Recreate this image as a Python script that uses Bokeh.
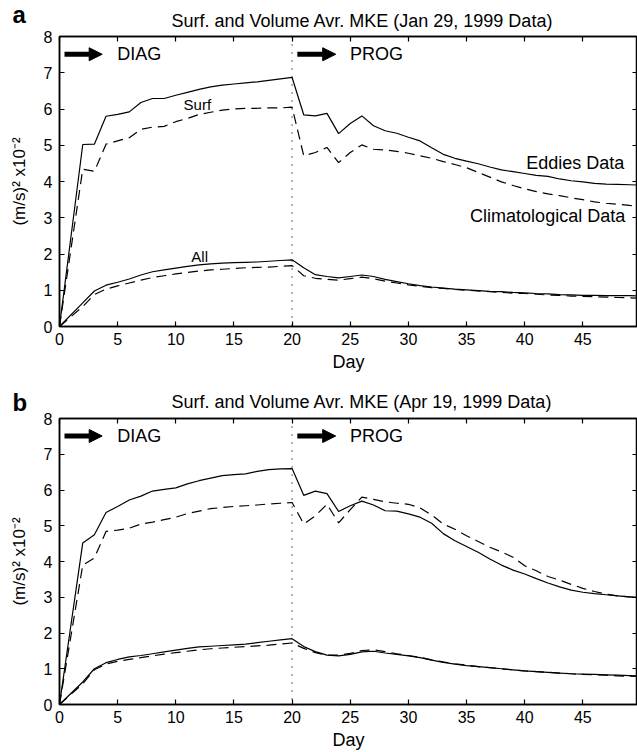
from bokeh.plotting import figure
from bokeh.layouts import column
from bokeh.models import (Range1d, LinearAxis, FixedTicker, Span, Arrow, NormalHead, Label, Title)
from bokeh.embed import file_html
from bokeh.resources import INLINE

FONT = "Liberation Sans"

days = [0, 2, 3, 4, 5, 6, 7, 8, 9, 10, 11, 12, 13, 14, 15, 16, 17, 18, 19, 20,
        21, 22, 23, 24, 25, 26, 27, 28, 29, 30, 31, 32, 33, 34, 35, 36, 37, 38, 39, 40,
        41, 42, 43, 44, 45, 46, 47, 48, 49, 50]

# Panel a (Jan 29, 1999)
a_surf_eddies = [0, 5.02, 5.03, 5.80, 5.85, 5.92, 6.18, 6.29, 6.29, 6.38, 6.46, 6.54, 6.61, 6.66, 6.69, 6.72, 6.75, 6.79, 6.83, 6.87,
                 5.84, 5.81, 5.88, 5.32, 5.60, 5.81, 5.54, 5.40, 5.33, 5.22, 5.12, 4.93, 4.75, 4.64, 4.56, 4.49, 4.40, 4.32, 4.27, 4.22,
                 4.17, 4.14, 4.07, 4.02, 3.99, 3.95, 3.93, 3.92, 3.91, 3.90]
a_surf_clim = [0, 4.34, 4.28, 5.03, 5.12, 5.21, 5.44, 5.50, 5.52, 5.65, 5.74, 5.85, 5.91, 5.97, 6.00, 6.02, 6.02, 6.03, 6.03, 6.05,
               4.71, 4.80, 4.94, 4.52, 4.80, 5.01, 4.89, 4.87, 4.83, 4.78, 4.71, 4.64, 4.55, 4.47, 4.38, 4.25, 4.12, 3.99, 3.89, 3.80,
               3.72, 3.66, 3.61, 3.55, 3.50, 3.44, 3.40, 3.37, 3.34, 3.32]
a_all_eddies = [0, 0.65, 0.98, 1.14, 1.22, 1.31, 1.42, 1.51, 1.56, 1.61, 1.66, 1.70, 1.73, 1.75, 1.76, 1.77, 1.78, 1.80, 1.82, 1.84,
                1.62, 1.43, 1.38, 1.34, 1.38, 1.42, 1.38, 1.30, 1.24, 1.18, 1.13, 1.09, 1.06, 1.03, 1.01, 0.99, 0.97, 0.96, 0.94, 0.93,
                0.91, 0.90, 0.88, 0.87, 0.86, 0.86, 0.85, 0.85, 0.85, 0.84]
a_all_clim = [0, 0.55, 0.88, 1.03, 1.12, 1.20, 1.28, 1.35, 1.40, 1.45, 1.49, 1.53, 1.56, 1.58, 1.60, 1.62, 1.63, 1.64, 1.66, 1.68,
              1.40, 1.33, 1.30, 1.28, 1.32, 1.36, 1.32, 1.25, 1.20, 1.15, 1.11, 1.07, 1.05, 1.02, 1.00, 0.98, 0.96, 0.94, 0.92, 0.91,
              0.89, 0.87, 0.86, 0.84, 0.83, 0.82, 0.81, 0.80, 0.79, 0.78]

# Panel b (Apr 19, 1999)
b_surf_eddies = [0, 4.52, 4.75, 5.37, 5.54, 5.72, 5.83, 5.97, 6.02, 6.06, 6.17, 6.26, 6.33, 6.40, 6.43, 6.45, 6.52, 6.57, 6.59, 6.60,
                 5.85, 5.97, 5.90, 5.40, 5.56, 5.69, 5.58, 5.42, 5.41, 5.33, 5.24, 5.07, 4.78, 4.58, 4.42, 4.26, 4.07, 3.90, 3.76, 3.65,
                 3.52, 3.40, 3.29, 3.20, 3.14, 3.10, 3.07, 3.04, 3.01, 3.00]
b_surf_clim = [0, 3.90, 4.10, 4.84, 4.88, 4.93, 5.05, 5.10, 5.17, 5.24, 5.34, 5.41, 5.48, 5.51, 5.54, 5.56, 5.58, 5.61, 5.63, 5.65,
               5.05, 5.28, 5.60, 5.08, 5.45, 5.80, 5.74, 5.67, 5.63, 5.60, 5.50, 5.30, 5.05, 4.90, 4.72, 4.56, 4.40, 4.27, 4.12, 3.88,
               3.74, 3.58, 3.48, 3.36, 3.25, 3.16, 3.09, 3.04, 3.01, 2.99]
b_all_eddies = [0, 0.63, 1.00, 1.17, 1.26, 1.33, 1.37, 1.42, 1.47, 1.52, 1.57, 1.61, 1.63, 1.65, 1.67, 1.69, 1.73, 1.77, 1.81, 1.84,
                1.62, 1.48, 1.38, 1.36, 1.40, 1.47, 1.49, 1.44, 1.40, 1.36, 1.31, 1.24, 1.18, 1.13, 1.09, 1.06, 1.03, 1.00, 0.97, 0.94,
                0.92, 0.90, 0.88, 0.86, 0.85, 0.84, 0.83, 0.82, 0.81, 0.80]
b_all_clim = [0, 0.58, 0.97, 1.13, 1.21, 1.26, 1.31, 1.36, 1.41, 1.45, 1.49, 1.53, 1.56, 1.58, 1.60, 1.62, 1.64, 1.66, 1.69, 1.72,
              1.57, 1.45, 1.38, 1.38, 1.43, 1.51, 1.53, 1.48, 1.42, 1.37, 1.32, 1.25, 1.19, 1.14, 1.10, 1.06, 1.03, 1.00, 0.97, 0.94,
              0.92, 0.90, 0.88, 0.86, 0.84, 0.83, 0.82, 0.80, 0.79, 0.78]

x_ticks = [0, 5, 10, 15, 20, 25, 30, 35, 40, 45]
y_ticks = [0, 1, 2, 3, 4, 5, 6, 7, 8]
switch_day = 20


def style_axis(ax, labels=True):
    ax.major_tick_in = 5
    ax.major_tick_out = 0
    ax.minor_tick_line_color = None
    ax.axis_line_width = 1.5
    ax.major_tick_line_width = 1.2
    ax.major_label_text_font = FONT
    ax.major_label_text_color = "black"
    ax.axis_label_text_font = FONT
    ax.axis_label_text_font_style = "normal"
    ax.axis_label_text_font_size = "17px"
    ax.axis_label_text_color = "black"
    ax.major_label_text_font_size = "16px"
    if not labels:
        ax.major_label_text_font_size = "1px"
        ax.major_label_text_color = None
        ax.major_label_standoff = 0


def panel(letter, title, eddies, clim, alle, allc, height, top, bottom,
          title_standoff, letter_standoff, notes):
    p = figure(width=637, height=height, min_border_left=59, min_border_right=0,
               min_border_top=top, min_border_bottom=bottom, title=None,
               x_range=Range1d(0, 49.7), y_range=Range1d(0, 8),
               output_backend="svg", toolbar_location=None,
               background_fill_color="white", border_fill_color="white")
    p.outline_line_color = "black"
    p.outline_line_width = 1.5
    p.xgrid.visible = False
    p.ygrid.visible = False

    xa = p.xaxis[0]
    xa.ticker = FixedTicker(ticks=x_ticks)
    ya = p.yaxis[0]
    ya.ticker = FixedTicker(ticks=y_ticks)
    for ax in (xa, ya):
        style_axis(ax)
    xa.axis_label = "Day"
    xa.axis_label_text_font_size = "18px"
    xa.major_label_standoff = 6
    xa.axis_label_standoff = 4
    ya.axis_label = "(m/s)\u00b2 x10\u207b\u00b2"
    ya.major_label_standoff = 7
    ya.axis_label_standoff = 12

    ta = LinearAxis(ticker=FixedTicker(ticks=x_ticks))
    style_axis(ta, labels=False)
    p.add_layout(ta, "above")
    ra = LinearAxis(ticker=FixedTicker(ticks=y_ticks))
    style_axis(ra, labels=False)
    ra.axis_line_color = None
    p.add_layout(ra, "right")

    p.add_layout(Title(text=title, align="left", offset=112, standoff=title_standoff,
                       text_font=FONT, text_font_size="18px", text_font_style="normal",
                       text_color="black"), "above")
    p.add_layout(Title(text=letter, align="left", offset=-47, standoff=letter_standoff,
                       text_font=FONT, text_font_size="24px", text_font_style="bold",
                       text_color="black"), "above")

    p.add_layout(Span(location=switch_day, dimension="height", line_color="black",
                      line_width=1.2, line_dash="1 7"))

    p.line(days, eddies, line_color="black", line_width=1.2)
    p.line(days, clim, line_color="black", line_width=1.2, line_dash="10 6")
    p.line(days, alle, line_color="black", line_width=1.2)
    p.line(days, allc, line_color="black", line_width=1.2, line_dash="10 6")

    for xs, xe, txt, tx in ((0.43, 3.67, "DIAG", 4.96), (20.45, 23.75, "PROG", 24.98)):
        p.add_layout(Arrow(x_start=xs, y_start=7.51, x_end=xe, y_end=7.51,
                           line_color="black", line_width=5,
                           end=NormalHead(size=13, fill_color="black", line_color="black")))
        p.add_layout(Label(x=tx, y=7.51, text=txt, text_font=FONT, text_font_size="18px",
                           text_baseline="middle", text_align="left", text_color="black"))

    for (nx, ny, txt, al, fs) in notes:
        p.add_layout(Label(x=nx, y=ny, text=txt, text_font=FONT, text_font_size=fs,
                           text_baseline="middle", text_align=al, text_color="black"))
    return p


notes_a = [(11.85, 6.13, "Surf", "center", "15px"),
           (12.05, 1.92, "All", "center", "15px"),
           (48.56, 4.52, "Eddies Data", "right", "18px"),
           (48.64, 3.05, "Climatological Data", "right", "18px")]

pa = panel("a", "Surf. and Volume Avr. MKE (Jan 29, 1999 Data)",
           a_surf_eddies, a_surf_clim, a_all_eddies, a_all_clim,
           380, 36, 54, 12, -50, notes_a)
pb = panel("b", "Surf. and Volume Avr. MKE (Apr 19, 1999 Data)",
           b_surf_eddies, b_surf_clim, b_all_eddies, b_all_clim,
           372, 38, 46, 14, -66, [])

layout = column(pa, pb, spacing=0)
open("out.html", "w").write(file_html(layout, INLINE))
